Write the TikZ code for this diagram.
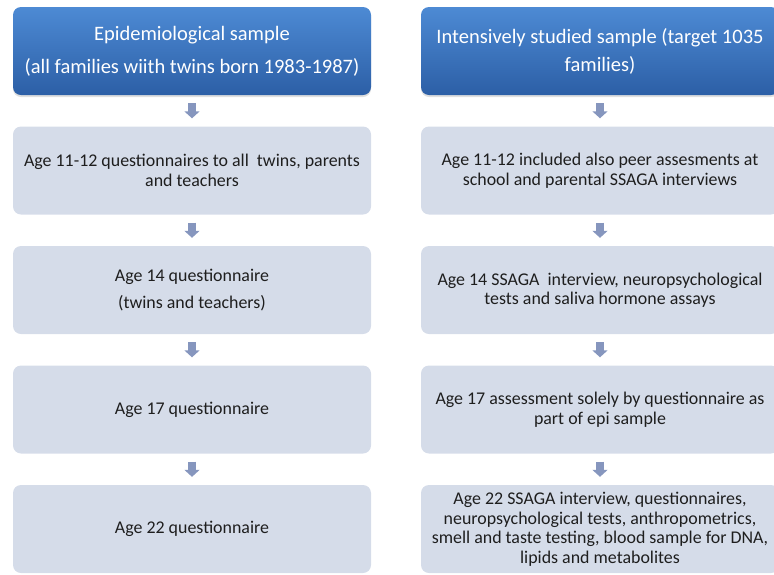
\documentclass[tikz,border=0pt]{standalone}
\usepackage{fontspec}
\setmainfont{Carlito}
\usetikzlibrary{arrows.meta,shadows}
\definecolor{headtop}{HTML}{4D8AD4}
\definecolor{headbot}{HTML}{2C5FA6}
\definecolor{stagefill}{HTML}{D5DCE9}
\definecolor{flowblue}{HTML}{8696BE}
\definecolor{inkdark}{HTML}{1E1E1E}
\begin{document}
\begin{tikzpicture}[
    , x=1pt, y=-1pt
    , head/.style = {rectangle,rounded corners=8pt,top color=headtop,bottom color=headbot,
        draw=none,text=white,minimum width=358pt,inner sep=2pt,minimum height=88pt,align=center,
        font=\fontsize{20.5}{26}\selectfont,
        drop shadow={opacity=0.25,shadow xshift=0pt,shadow yshift=-2pt}}
    , stage/.style = {rectangle,rounded corners=8pt,fill=stagefill,draw=none,text=inkdark,
        minimum width=358pt,inner sep=2pt,minimum height=88pt,align=center,
        font=\fontsize{17.9}{19.5}\selectfont}
    , flow/.style = {draw=flowblue,line width=8pt,shorten <=8pt,shorten >=8pt,
        -{Triangle[width=15pt,length=7pt]}}
]
\useasboundingbox (0,0) rectangle (774,574);
% column headers
\node[head] (e0) at (192,51) {Epidemiological sample\\[7pt](all families wiith twins born 1983-1987)};
\node[head] (i0) at (600,51) {Intensively studied sample (target 1035\\[2pt]families)};
% epidemiological follow-up
\foreach \txt [count=\j] in {
    {Age 11-12 questionnaires to all~ twins, parents\\and teachers},
    {Age 14 questionnaire\\[8pt](twins and teachers)},
    {Age 17 questionnaire},
    {Age 22 questionnaire}}
    \node[stage] (e\j) at (192,51+119.5*\j) {\txt};
% intensive follow-up
\foreach \txt [count=\j] in {
    {Age 11-12 included also peer assesments at\\school and parental SSAGA interviews},
    {Age 14 SSAGA~ interview, neuropsychological\\tests and saliva hormone assays},
    {Age 17 assessment solely by questionnaire as\\part of epi sample},
    {Age 22 SSAGA interview, questionnaires,\\neuropsychological tests, anthropometrics,\\smell and taste testing, blood sample for DNA,\\lipids and metabolites}}
    \node[stage] (i\j) at (600,51+119.5*\j) {\txt};
\foreach \j [count=\i from 0] in {1,...,4} {
    \draw[flow] (e\i) -- (e\j);
    \draw[flow] (i\i) -- (i\j);
}
\end{tikzpicture}
\end{document}
